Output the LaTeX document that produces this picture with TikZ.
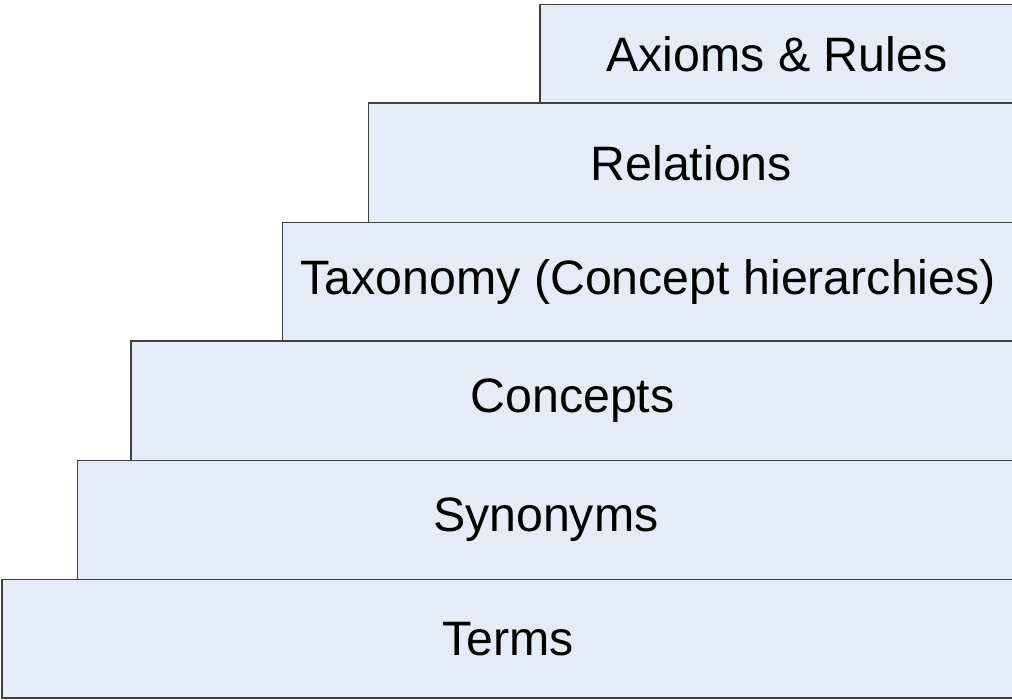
\documentclass[tikz,border=0pt]{standalone}
\usepackage{fontspec}
\setmainfont{Liberation Sans}
\definecolor{boxfill}{HTML}{E6ECF7}
\definecolor{boxline}{HTML}{404040}
\begin{document}
\begin{tikzpicture}[x=1pt,y=-1pt,
  layer/.style={draw=boxline, fill=boxfill, line width=1.6pt, rectangle, inner sep=0pt,
    font=\fontsize{48.3}{50}\selectfont, text=black}]
\useasboundingbox (0,0) rectangle (1012,699);
\begin{scope}
\clip (0,0) rectangle (1012,699);
\node[layer, minimum width=1012pt, minimum height=118.5pt] (terms) at (508,638.75) {Terms};
\node[layer, minimum width=936.5pt, minimum height=119pt] (syn) at (545.75,520) {Synonyms};
\node[layer, minimum width=883pt, minimum height=119.5pt] (conc) at (572.5,400.75) {Concepts};
\node[layer, minimum width=731.5pt, minimum height=118.5pt] (tax) at (648.25,281.75) {Taxonomy (Concept hierarchies)};
\node[layer, minimum width=645.5pt, minimum height=119.5pt] (rel) at (691.25,162.75) {Relations};
\node[layer, minimum width=474pt, minimum height=98.5pt] (ax) at (777,53.75) {Axioms \& Rules};
\end{scope}
\end{tikzpicture}
\end{document}
